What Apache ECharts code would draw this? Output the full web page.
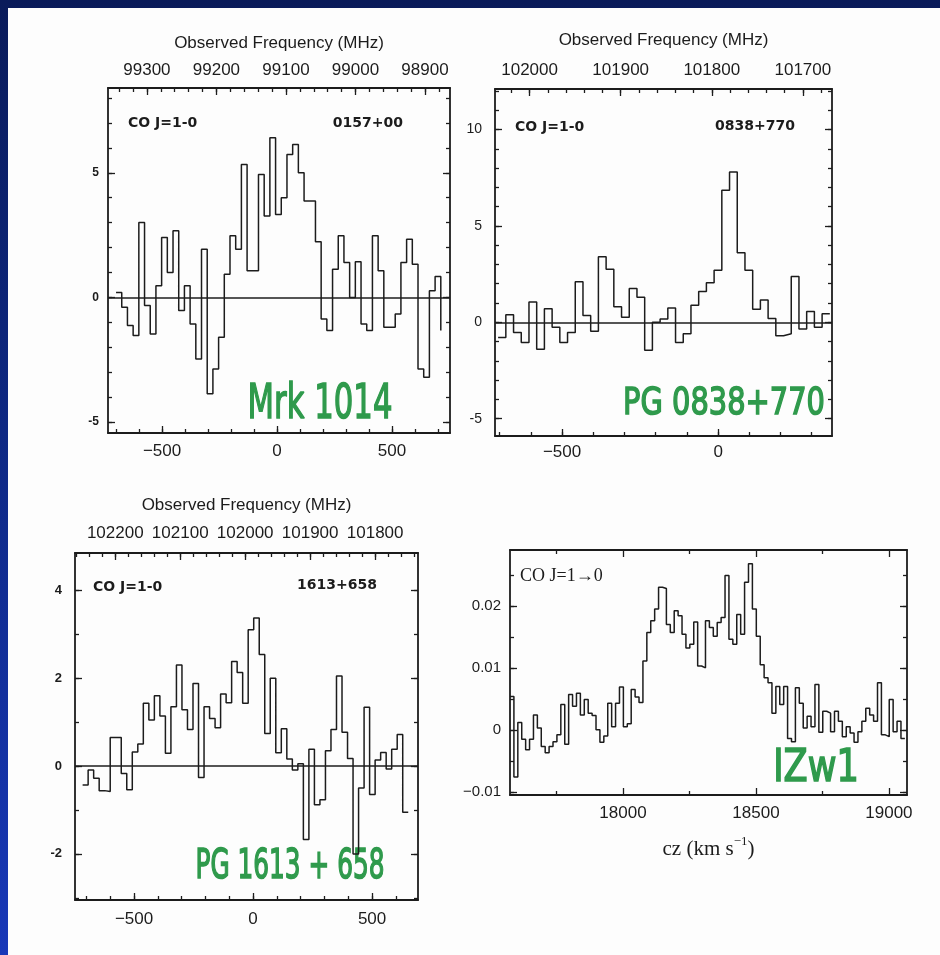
<!DOCTYPE html>
<html><head><meta charset="utf-8">
<script src="https://cdn.jsdelivr.net/npm/echarts@6/dist/echarts.min.js"></script>
<style>
html,body{margin:0;padding:0;width:940px;height:955px;overflow:hidden;}
body{background:linear-gradient(180deg,#0a1b5a 0%,#0e2883 45%,#1838b8 100%);position:relative;}
#paper{position:absolute;left:8px;top:8px;width:932px;height:947px;background:#fdfdfd;}
#c{position:absolute;left:0;top:0;width:940px;height:955px;}
</style></head><body><div id="paper"></div><div id="c"></div>
<script>
// ---------------- DATA ----------------
// Mrk 1014 (0157+00): channel levels (T, left-to-right), first/last channel edge in km/s
const mrkSpan = [-700, 712];
const mrkT = [0.2,-0.4,-1.13,-1.53,3.0,-0.33,-1.47,0.47,2.4,1.0,2.67,-0.53,0.47,-1.07,-2.47,1.93,-3.87,-2.87,-1.6,0.93,2.47,1.93,5.33,1.07,1.07,4.93,3.27,6.4,3.33,4.0,5.73,6.13,5.0,3.87,3.87,2.23,-0.87,-1.33,1.13,2.47,1.4,0.0,1.43,-1.07,-1.33,2.47,1.07,-1.2,-1.2,-0.67,1.4,2.33,1.33,-2.87,-3.2,0.27,0.84,-1.33];
// PG 0838+770
const pg0838Span = [-705, 358];
const pg0838T = [-0.79,0.39,-0.53,-1.05,1.05,-1.4,0.7,-0.26,-1.05,-0.53,2.1,0.35,-0.47,3.4,2.75,0.8,0.26,1.75,1.3,-1.45,0.0,0.17,0.74,-1.05,-0.6,0.88,1.6,2.05,2.7,6.85,7.8,3.6,2.7,0.67,1.15,0.2,-0.7,-0.6,2.37,-0.35,0.56,-0.26,0.44,0.44];
// PG 1613+658
const pg1613Span = [-716, 652];
const pg1613T = [-0.43,-0.09,-0.28,-0.56,-0.58,0.65,0.65,-0.17,-0.54,0.32,0.5,1.43,1.05,1.6,1.14,0.29,1.35,2.3,1.28,0.83,1.88,-0.26,1.35,1.08,0.87,1.64,1.44,2.38,2.13,1.43,3.1,3.37,2.54,0.74,2.0,0.3,0.85,0.16,-0.09,0.05,-1.67,0.38,-0.88,-0.77,0.35,0.83,2.05,0.77,0.17,-2.0,-0.5,1.34,-0.65,0.14,0.31,-0.07,0.38,0.72,-1.05,-1.05];
// I Zw 1 (cz in km/s)
const izw1Span = [17575, 19060];
const izw1S = [0.0054,-0.0076,0.0012,-0.0015,-0.0032,-0.0015,0.0024,0.0003,-0.0027,-0.0037,-0.0027,-0.0019,-0.0008,0.0041,-0.0023,0.0057,0.0038,0.0059,0.0024,0.0049,0.0027,0.0023,0.0,-0.002,-0.001,0.0043,0.0005,0.0043,0.0069,0.0005,0.001,0.0065,0.0053,0.0044,0.0111,0.0157,0.0176,0.0195,0.023,0.0228,0.017,0.0157,0.0192,0.0184,0.0154,0.0132,0.0138,0.0174,0.0103,0.01,0.0176,0.0165,0.0151,0.0173,0.0181,0.0249,0.0146,0.0138,0.0186,0.0154,0.0238,0.0268,0.0195,0.0151,0.0105,0.0084,0.0076,0.0027,0.007,0.0041,0.007,-0.0014,-0.0019,0.0068,0.0043,0.0003,0.0022,0.0005,0.0073,-0.0004,0.003,0.0027,-0.0003,0.003,0.0014,-0.0011,0.0005,-0.0005,-0.002,-0.0003,0.0014,0.0035,0.0024,0.0014,0.0076,-0.0008,-0.0011,0.0049,-0.0003,0.0014,-0.0014,-0.0014];

// tick labels
const velTicks = [-500, 0, 500];
const czTicks = [18000, 18500, 19000];
const czMinorTicks = [17750, 18250, 18750];
const freqTicks1 = [99300, 99200, 99100, 99000, 98900];
const freqTicks2 = [102000, 101900, 101800, 101700];
const freqTicks3 = [102200, 102100, 102000, 101900, 101800];
const yTicks1 = [-5, 0, 5];
const yTicks2 = [-5, 0, 5, 10];
const yTicks3 = [-2, 0, 2, 4];
const yTicks4 = [-0.01, 0, 0.01, 0.02];

function range(a, b, s) { const r = []; for (let v = a; v <= b + 1e-9; v += s) r.push(+v.toFixed(6)); return r; }
function steps(vals, span) {
  const n = vals.length, dx = (span[1] - span[0]) / (n - 1);
  return vals.map((v, i) => [span[0] + i * dx, v]);
}

const INK = '#1c1c1c';
const SANS = '"Liberation Sans", Arial, sans-serif';
const minus = v => (v < 0 ? '\u2212' + (-v) : '' + v);
const hyph = v => '' + v;

const panels = [
  { rect: [108, 88, 342, 345], x: [-735, 752], y: [-5.44, 8.4], f: [98864, 99356],
    data: steps(mrkT, mrkSpan), zero: true,
    xMaj: velTicks, xMin: range(-700, 700, 100), xFmt: minus, xFont: 17, xMargin: 10,
    fMaj: freqTicks1, fMin: range(98880, 99340, 20), fMargin: 9, fNameGap: 36,
    yMaj: yTicks1, yMin: range(-5, 8, 1), yFmt: hyph, yFont: 12, yMargin: 9, yBold: 'bold' },
  { rect: [495, 89, 337, 347], x: [-715, 365], y: [-5.9, 12.1], f: [101668, 102038],
    data: steps(pg0838T, pg0838Span), zero: true,
    xMaj: velTicks, xMin: range(-700, 300, 100), xFmt: minus, xFont: 17, xMargin: 8,
    fMaj: freqTicks2, fMin: range(101680, 102020, 20), fMargin: 10, fNameGap: 40,
    yMaj: yTicks2, yMin: range(-5, 12, 1), yFmt: hyph, yFont: 14, yMargin: 13, yBold: 'normal' },
  { rect: [75, 553, 343, 347], x: [-748, 693], y: [-3.05, 4.85], f: [101734, 102262],
    data: steps(pg1613T, pg1613Span), zero: true,
    xMaj: velTicks, xMin: range(-700, 600, 100), xFmt: minus, xFont: 17, xMargin: 11,
    fMaj: freqTicks3, fMin: range(101740, 102260, 20), fMargin: 11, fNameGap: 39,
    yMaj: yTicks3, yMin: range(-3, 4, 1), yFmt: hyph, yFont: 13, yMargin: 13, yBold: 'bold' },
  { rect: [510, 550, 397, 245], x: [17575, 19068], y: [-0.0105, 0.029], f: null,
    data: steps(izw1S, izw1Span), zero: false,
    xMaj: czTicks, xMin: czMinorTicks, xFmt: hyph, xFont: 17, xMargin: 10,
    yMaj: yTicks4, yMin: range(-0.01, 0.025, 0.005), yFmt: minus, yFont: 15, yMargin: 9, yBold: 'normal',
    xName: '{a|cz (km s}{s|\u22121}{a|)}' }
];

const option = { animation: false, backgroundColor: 'transparent', grid: [], xAxis: [], yAxis: [], series: [], graphic: [] };
const axLine = { show: true, onZero: false, lineStyle: { color: INK, width: 1.8 } };
const noLine = { show: false, onZero: false };
const tk = (vals, len) => ({ show: true, inside: true, length: len, customValues: vals, lineStyle: { color: INK, width: 1.3 } });

panels.forEach(p => {
  const g = { left: p.rect[0], top: p.rect[1], width: p.rect[2], height: p.rect[3], containLabel: false, outerBoundsMode: 'none', show: false };
  const gMain = option.grid.length; option.grid.push(Object.assign({}, g));
  const gMin = option.grid.length; option.grid.push(Object.assign({}, g));

  const xMainIdx = option.xAxis.length;
  const bottom = {
    gridIndex: gMain, type: 'value', position: 'bottom', min: p.x[0], max: p.x[1],
    axisLine: axLine, axisTick: tk(p.xMaj, 7), splitLine: { show: false },
    axisLabel: { show: true, customValues: p.xMaj, formatter: p.xFmt, hideOverlap: false, fontSize: p.xFont, color: INK, margin: p.xMargin, fontFamily: SANS }
  };
  if (p.xName) {
    Object.assign(bottom, {
      name: p.xName, nameLocation: 'middle', nameGap: 40,
      nameTextStyle: { color: INK, rich: {
        a: { fontFamily: '"Liberation Serif", "Times New Roman", serif', fontSize: 21, lineHeight: 28, color: INK },
        s: { fontFamily: '"Liberation Serif", "Times New Roman", serif', fontSize: 13, verticalAlign: 'top', lineHeight: 28, color: INK }
      } }
    });
  }
  option.xAxis.push(bottom);
  if (p.f) {
    option.xAxis.push({
      gridIndex: gMain, type: 'value', position: 'top', inverse: true, min: p.f[0], max: p.f[1],
      axisLine: axLine, axisTick: tk(p.fMaj, 7), splitLine: { show: false },
      axisLabel: { show: true, customValues: p.fMaj, formatter: hyph, hideOverlap: false, fontSize: 17, color: INK, margin: p.fMargin, fontFamily: SANS },
      name: 'Observed Frequency (MHz)', nameLocation: 'middle', nameGap: p.fNameGap,
      nameTextStyle: { fontSize: 17, color: INK, fontFamily: SANS }
    });
    option.xAxis.push({ gridIndex: gMin, type: 'value', position: 'bottom', min: p.x[0], max: p.x[1], axisLine: noLine, axisTick: tk(p.xMin, 4), axisLabel: { show: false }, splitLine: { show: false } });
    option.xAxis.push({ gridIndex: gMin, type: 'value', position: 'top', inverse: true, min: p.f[0], max: p.f[1], axisLine: noLine, axisTick: tk(p.fMin, 4), axisLabel: { show: false }, splitLine: { show: false } });
  } else {
    option.xAxis.push({ gridIndex: gMain, type: 'value', position: 'top', min: p.x[0], max: p.x[1], axisLine: axLine, axisTick: tk(p.xMaj, 7), axisLabel: { show: false }, splitLine: { show: false } });
    option.xAxis.push({ gridIndex: gMin, type: 'value', position: 'bottom', min: p.x[0], max: p.x[1], axisLine: noLine, axisTick: tk(p.xMin, 4), axisLabel: { show: false }, splitLine: { show: false } });
    option.xAxis.push({ gridIndex: gMin, type: 'value', position: 'top', min: p.x[0], max: p.x[1], axisLine: noLine, axisTick: tk(p.xMin, 4), axisLabel: { show: false }, splitLine: { show: false } });
  }

  const yMainIdx = option.yAxis.length;
  option.yAxis.push({
    gridIndex: gMain, type: 'value', position: 'left', min: p.y[0], max: p.y[1],
    axisLine: axLine, axisTick: tk(p.yMaj, 7), splitLine: { show: false },
    axisLabel: { show: true, customValues: p.yMaj, formatter: p.yFmt, hideOverlap: false, fontSize: p.yFont, fontWeight: p.yBold, color: INK, margin: p.yMargin, fontFamily: SANS }
  });
  option.yAxis.push({ gridIndex: gMain, type: 'value', position: 'right', min: p.y[0], max: p.y[1], axisLine: axLine, axisTick: tk(p.yMaj, 7), axisLabel: { show: false }, splitLine: { show: false } });
  option.yAxis.push({ gridIndex: gMin, type: 'value', position: 'left', min: p.y[0], max: p.y[1], axisLine: noLine, axisTick: tk(p.yMin, 4), axisLabel: { show: false }, splitLine: { show: false } });
  option.yAxis.push({ gridIndex: gMin, type: 'value', position: 'right', min: p.y[0], max: p.y[1], axisLine: noLine, axisTick: tk(p.yMin, 4), axisLabel: { show: false }, splitLine: { show: false } });

  const s = {
    type: 'line', step: 'end', xAxisIndex: xMainIdx, yAxisIndex: yMainIdx, data: p.data,
    symbol: 'none', silent: true, lineStyle: { color: INK, width: 1.5 }, z: 3
  };
  if (p.zero) {
    s.markLine = { silent: true, symbol: ['none', 'none'], label: { show: false },
      lineStyle: { color: INK, width: 1.6, type: 'solid' }, data: [{ yAxis: 0 }] };
  }
  option.series.push(s);
});

const GREEN = '#2f9a4c';
const txt = (x, y, text, font, align) => ({ type: 'text', x, y, silent: true,
  style: { text, font, fill: INK, align, verticalAlign: 'middle' } });
const hand = (x, y, text, size, sx) => ({ type: 'text', x, y, scaleX: sx, silent: true,
  style: { text, font: size + 'px "DejaVu Sans", sans-serif', fill: GREEN, stroke: GREEN, lineWidth: 1.6, align: 'center', verticalAlign: 'middle' } });
const LBL = 'bold 14px "DejaVu Sans", sans-serif';
option.graphic = [
  txt(128, 123, 'CO J=1-0', LBL, 'left'), txt(403, 123, '0157+00', LBL, 'right'),
  txt(515, 127, 'CO J=1-0', LBL, 'left'), txt(795, 126, '0838+770', LBL, 'right'),
  txt(93, 587, 'CO J=1-0', LBL, 'left'), txt(377, 585, '1613+658', LBL, 'right'),
  txt(520, 576, 'CO J=1\u21920', '18px "Liberation Serif", serif', 'left'),
  hand(320, 406, 'Mrk 1014', 48, 0.64),
  hand(724, 404, 'PG 0838+770', 38, 0.76),
  hand(290, 868, 'PG 1613 + 658', 40, 0.62),
  hand(816, 770, 'IZw1', 44, 0.8)
];

const chart = echarts.init(document.getElementById('c'), null, { renderer: 'canvas' });
chart.setOption(option);
</script>
</body></html>
